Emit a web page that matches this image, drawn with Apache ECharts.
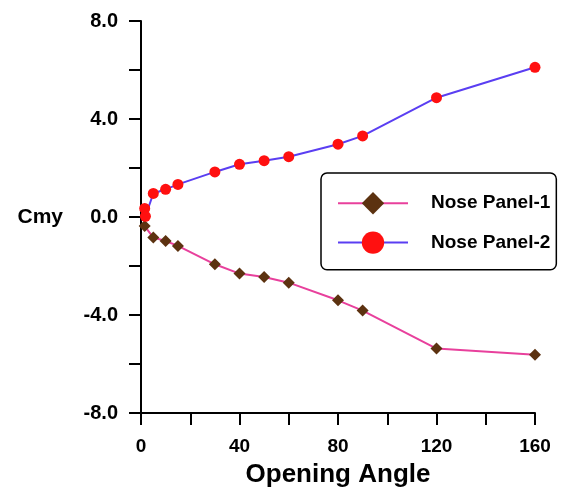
<!DOCTYPE html>
<html>
<head>
<meta charset="utf-8">
<script src="https://cdn.jsdelivr.net/npm/echarts@6/dist/echarts.min.js"></script>
<style>html,body{margin:0;padding:0;background:#fff}#c{width:568px;height:493px}</style>
</head>
<body>
<div id="c"></div>
<script>
const seriesNames = ['Nose Panel-1', 'Nose Panel-2'];
const angles1 = [1.5, 5, 10, 15, 30, 40, 50, 60, 80, 90, 120, 160];
const cmy1 = [-0.37, -0.84, -0.98, -1.18, -1.93, -2.31, -2.45, -2.68, -3.40, -3.82, -5.37, -5.62];
const angles2 = [1.5, 1.8, 5, 10, 15, 30, 40, 50, 60, 80, 90, 120, 160];
const cmy2 = [0.35, 0.03, 0.96, 1.13, 1.33, 1.84, 2.15, 2.30, 2.46, 2.97, 3.31, 4.87, 6.11];
const xTitle = 'Opening Angle';
const yTitle = 'Cmy';

const FONT = 'Arial, "Liberation Sans", sans-serif';
const chart = echarts.init(document.getElementById('c'), null, {renderer: 'canvas'});
const axisCommon = {
  axisLine: {onZero: false, lineStyle: {color: '#000', width: 2}},
  axisTick: {show: true, inside: false, length: 12, lineStyle: {color: '#000', width: 2}},
  splitLine: {show: false},
  nameTextStyle: {color: '#000', fontFamily: FONT, fontWeight: 'bold'}
};
chart.setOption({
  animation: false,
  backgroundColor: '#fff',
  grid: {left: 141, right: 33, top: 21, bottom: 80, containLabel: false, outerBoundsMode: 'none'},
  legend: {
    orient: 'vertical',
    left: 321, top: 173,
    padding: [19, 6, 16, 16],
    itemWidth: 70, itemHeight: 28, itemGap: 17,
    borderColor: '#000', borderWidth: 1.5, borderRadius: 6,
    backgroundColor: '#fff',
    textStyle: {fontFamily: FONT, fontWeight: 'bold', fontSize: 19, color: '#000', padding: [0, 0, 0, 18]},
    data: seriesNames
  },
  xAxis: Object.assign({}, axisCommon, {
    type: 'value', min: 0, max: 160, interval: 20,
    name: xTitle, nameLocation: 'middle', nameGap: 49,
    nameTextStyle: {color: '#000', fontFamily: FONT, fontWeight: 'bold', fontSize: 26},
    axisLabel: {margin: 24, color: '#000', fontFamily: FONT, fontWeight: 'bold', fontSize: 19,
      formatter: v => (v % 40 === 0 ? String(v) : '')}
  }),
  yAxis: Object.assign({}, axisCommon, {
    type: 'value', min: -8, max: 8, interval: 2,
    name: yTitle, nameLocation: 'middle', nameGap: 78, nameRotate: 0,
    nameTextStyle: {color: '#000', fontFamily: FONT, fontWeight: 'bold', fontSize: 21},
    axisLabel: {margin: 23, color: '#000', fontFamily: FONT, fontWeight: 'bold', fontSize: 20,
      formatter: v => (v % 4 === 0 ? (v === 0 ? '0.0' : v.toFixed(1)) : '')}
  }),
  series: [
    {
      name: seriesNames[0], type: 'line',
      data: angles1.map((a, i) => [a, cmy1[i]]),
      symbol: 'diamond', symbolSize: 12, showAllSymbol: true,
      lineStyle: {color: '#e8409c', width: 2},
      itemStyle: {color: '#5c3210'},
      z: 3
    },
    {
      name: seriesNames[1], type: 'line',
      data: angles2.map((a, i) => [a, cmy2[i]]),
      symbol: 'circle', symbolSize: 11, showAllSymbol: true,
      lineStyle: {color: '#5a3ef2', width: 2},
      itemStyle: {color: '#ff1010'},
      z: 4
    }
  ]
});
</script>
</body>
</html>
